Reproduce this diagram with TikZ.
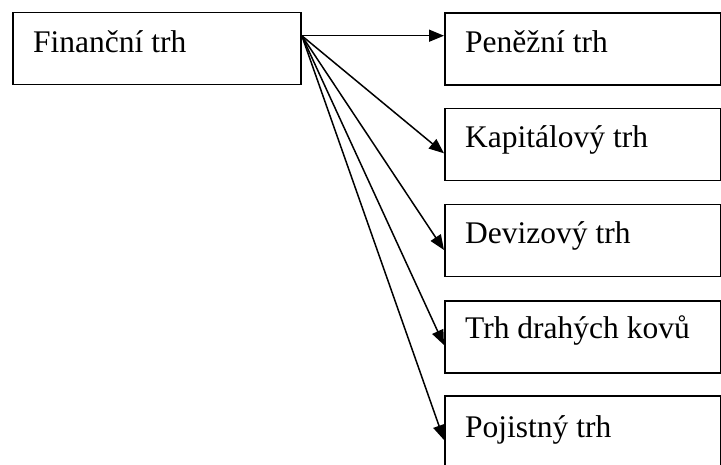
\documentclass[tikz,border=0pt]{standalone}
\usepackage{fontspec}
\setmainfont{Liberation Serif}
\usetikzlibrary{arrows.meta,calc}
\begin{document}
\begin{tikzpicture}[x=1pt,y=-1pt,
  box/.style={draw=black,line width=1.8pt,minimum width=#1,minimum height=72pt,anchor=north west,inner sep=0pt},
  lbl/.style={anchor=base west,inner sep=0pt,font=\fontsize{31.5}{36}\selectfont},
  arr/.style={line width=1.5pt,-{Triangle[length=15pt,width=12pt]}}]
\useasboundingbox (0,0) rectangle (721,464);
\clip (0,0) rectangle (721,464);
\fill[white] (0,0) rectangle (721,464);
\node[box=288pt] (fin) at (12,11.5) {};
\node[box=276pt] (b1) at (444,12) {};
\node[box=276pt] (b2) at (444,107.5) {};
\node[box=276pt] (b3) at (444,203.5) {};
\node[box=276pt] (b4) at (444,300) {};
\node[box=276pt] (b5) at (444,395) {};
\node[lbl] (tfin) at (33,52) {Finanční trh};
\node[lbl] (t1) at (465,52) {Peněžní trh};
\node[lbl] (t2) at (465,147) {Kapitálový trh};
\node[lbl] (t3) at (465,243) {Devizový trh};
\node[lbl] (t4) at (465,338) {Trh drahých kovů};
\node[lbl] (t5) at (465,437) {Pojistný trh};
\coordinate (src) at ($(fin.north east)+(0,24.2)$);
\coordinate (e1) at ($(b1.north west)+(0,23.7)$);
\coordinate (e2) at ($(b2.north west)+(0,45.8)$);
\coordinate (e3) at ($(b3.north west)+(0,46.5)$);
\coordinate (e4) at ($(b4.north west)+(0,45)$);
\coordinate (e5) at ($(b5.north west)+(0,45)$);
\foreach \e in {e1,e2,e3,e4,e5} \draw[arr] (src) -- (\e);
\end{tikzpicture}
\end{document}
